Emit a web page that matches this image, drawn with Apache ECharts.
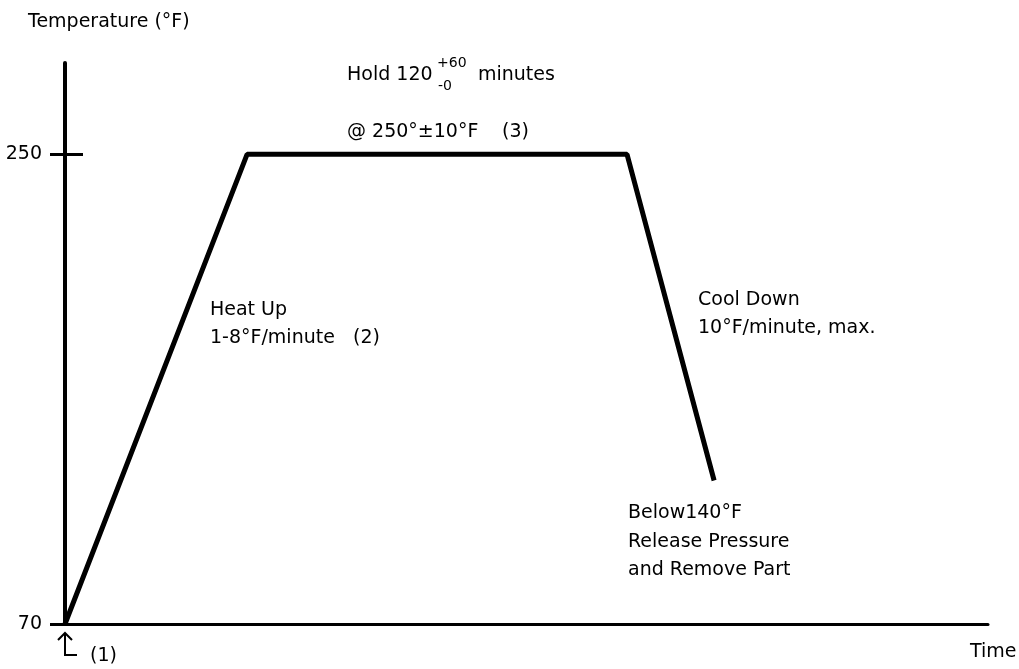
<!DOCTYPE html>
<html>
<head>
<meta charset="utf-8">
<script src="https://cdn.jsdelivr.net/npm/echarts@6/dist/echarts.min.js"></script>
<style>
  html, body { margin: 0; padding: 0; background: #fff; }
  #main { width: 1019px; height: 669px; }
</style>
</head>
<body>
<div id="main"></div>
<script>
// cure cycle profile: time in minutes, temperature in deg F
var cycleTime = [0, 57.5, 177.5, 205];
var cycleTemp = [70, 250, 250, 125];
var tempTicks = [70, 250];
var innerTicks = [250];

var FONT = 'DejaVu Sans';
var FS = 19;

var chart = echarts.init(document.getElementById('main'));

function txt(x, y, s, opt) {
    opt = opt || {};
    return {
        type: 'text', x: x, y: y, silent: true,
        style: {
            text: s, fill: '#000', font: (opt.size || FS) + 'px "' + FONT + '"',
            align: opt.align || 'left', verticalAlign: 'middle'
        }
    };
}

var points = [];
for (var i = 0; i < cycleTime.length; i++) {
    points.push([cycleTime[i], cycleTemp[i]]);
}

var option = {
    animation: false,
    backgroundColor: '#fff',
    grid: { left: 65, right: 31, top: 63, bottom: 45 },
    xAxis: {
        type: 'value', min: 0, max: 291.5,
        axisLine: { show: true, lineStyle: { color: '#000', width: 3 } },
        axisTick: { show: false },
        axisLabel: { show: false },
        splitLine: { show: false }
    },
    yAxis: [{
        type: 'value', min: 70, max: 285,
        axisLine: { show: true, onZero: false, lineStyle: { color: '#000', width: 4 } },
        axisTick: { show: true, length: 15, customValues: tempTicks, lineStyle: { color: '#000', width: 3 } },
        axisLabel: { show: true, customValues: tempTicks, margin: 23, color: '#000', fontFamily: FONT, fontSize: 19 },
        splitLine: { show: false }
    }, {
        // inner half of the 250 tick
        type: 'value', min: 70, max: 285, position: 'left',
        axisLine: { show: false },
        axisTick: { show: true, inside: true, length: 18, customValues: innerTicks, lineStyle: { color: '#000', width: 3 } },
        axisLabel: { show: false },
        splitLine: { show: false }
    }],
    series: [{
        type: 'line',
        data: points,
        showSymbol: false,
        symbol: 'none',
        lineStyle: { color: '#000', width: 5 }
    }],
    graphic: [
        txt(28, 22, 'Temperature (°F)'),
        txt(970, 652, 'Time'),
        txt(347, 75, 'Hold 120'),
        txt(437, 63, '+60', { size: 14 }),
        txt(438, 86, '-0', { size: 14 }),
        txt(478, 75, 'minutes'),
        txt(347, 132, '@ 250°±10°F'),
        txt(502, 132, '(3)'),
        txt(210, 310, 'Heat Up'),
        txt(210, 338, '1-8°F/minute'),
        txt(353, 338, '(2)'),
        txt(698, 300, 'Cool Down'),
        txt(698, 328, '10°F/minute, max.'),
        txt(628, 513, 'Below140°F'),
        txt(628, 542, 'Release Pressure'),
        txt(628, 570, 'and Remove Part'),
        txt(90, 656, '(1)'),
        // start marker arrow
        {
            type: 'polyline', silent: true,
            shape: { points: [[58, 640], [65, 633], [72, 640]] },
            style: { stroke: '#000', lineWidth: 2, fill: null }
        },
        {
            type: 'polyline', silent: true,
            shape: { points: [[65, 633], [65, 655], [77, 655]] },
            style: { stroke: '#000', lineWidth: 2, fill: null }
        }
    ]
};

chart.setOption(option);
</script>
</body>
</html>
